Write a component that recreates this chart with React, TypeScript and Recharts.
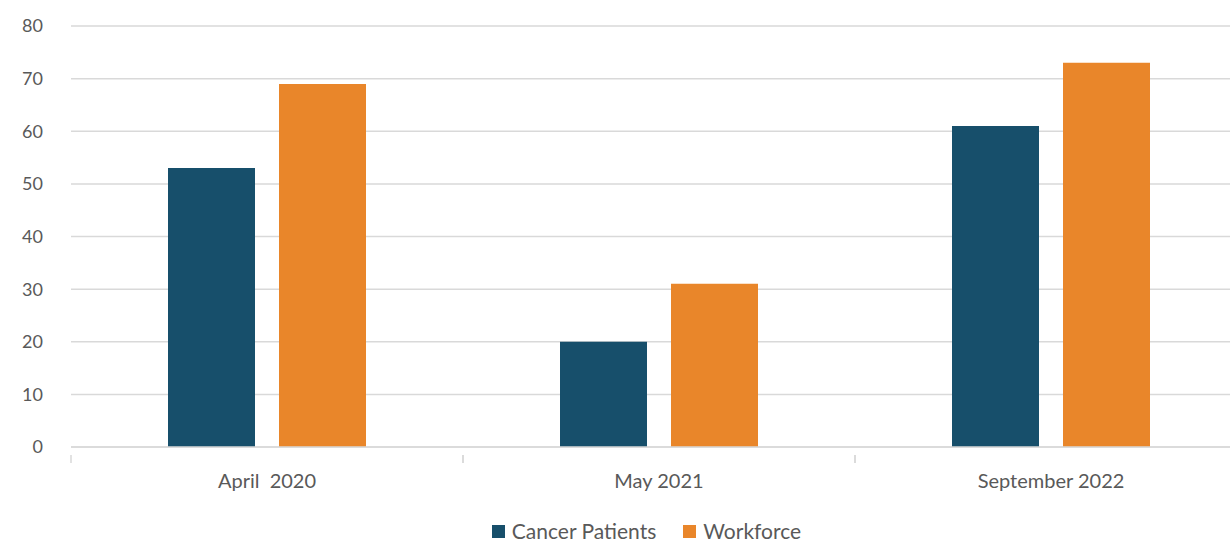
import React from 'react';
import { BarChart, Bar, XAxis, YAxis, CartesianGrid, Legend } from 'recharts';

const periods = ['April  2020', 'May 2021', 'September 2022'];
const cancerPatients = [53, 20, 61];
const workforce = [69, 31, 73];
const yTicks = [0, 10, 20, 30, 40, 50, 60, 70, 80];

const NAVY = '#174f6b';
const ORANGE = '#e9862a';
const TEXT = '#595959';
const GRID = '#d9d9d9';
const FONT = 'Lato, "Open Sans", sans-serif';

const data = periods.map((p, i) => ({
  period: p,
  cancer: cancerPatients[i],
  workforce: workforce[i],
}));

const CHART_W = 1250;
const PLOT_LEFT = 71;
const PLOT_RIGHT_MARGIN = 3;
const halfBand = (CHART_W - PLOT_LEFT - PLOT_RIGHT_MARGIN) / periods.length / 2;

// Excel-style category ticks: mark sits between categories, label in the middle
const CategoryTick = (props: any) => {
  const { x, y, payload } = props;
  return (
    <g>
      <line x1={x - halfBand} x2={x - halfBand} y1={y} y2={y + 8} stroke={GRID} strokeWidth={1.5} />
      <line x1={x + halfBand} x2={x + halfBand} y1={y} y2={y + 8} stroke={GRID} strokeWidth={1.5} />
      <text x={x} y={y + 33} textAnchor="middle" fill={TEXT} fontSize={20} fontFamily={FONT} style={{ whiteSpace: 'pre' }}>
        {payload.value}
      </text>
    </g>
  );
};

// legend is centred on the full (wider) chart, so it sits a bit right of the window centre
const LegendContent = () => (
  <div style={{ display: 'flex', justifyContent: 'center', alignItems: 'center', paddingTop: 23, paddingLeft: 46, lineHeight: '22px', fontFamily: FONT, fontSize: 21, color: TEXT }}>
    <span style={{ display: 'inline-block', width: 13, height: 13, background: NAVY, marginRight: 7 }} />
    <span style={{ marginRight: 27 }}>Cancer Patients</span>
    <span style={{ display: 'inline-block', width: 13, height: 13, background: ORANGE, marginRight: 7 }} />
    <span>Workforce</span>
  </div>
);

export default function App() {
  return (
    <div style={{ position: 'absolute', left: 0, top: 0, width: 1230, height: 542, overflow: 'hidden', background: '#fff' }}>
      <BarChart
        width={CHART_W}
        height={542}
        data={data}
        margin={{ top: 26, right: PLOT_RIGHT_MARGIN, bottom: 0, left: 0 }}
        barGap={24}
      >
        <CartesianGrid vertical={false} stroke={GRID} strokeWidth={1.5} />
        <XAxis
          dataKey="period"
          height={50}
          axisLine={{ stroke: GRID, strokeWidth: 1.5 }}
          tickLine={false}
          tick={<CategoryTick />}
          interval={0}
        />
        <YAxis
          width={PLOT_LEFT}
          domain={[0, 80]}
          ticks={yTicks}
          axisLine={false}
          tickLine={false}
          tickMargin={22}
          tick={{ fill: TEXT, fontSize: 18, fontFamily: FONT }}
        />
        <Legend verticalAlign="bottom" height={45} content={<LegendContent />} />
        <Bar dataKey="cancer" name="Cancer Patients" fill={NAVY} barSize={87} isAnimationActive={false} />
        <Bar dataKey="workforce" name="Workforce" fill={ORANGE} barSize={87} isAnimationActive={false} />
      </BarChart>
    </div>
  );
}
